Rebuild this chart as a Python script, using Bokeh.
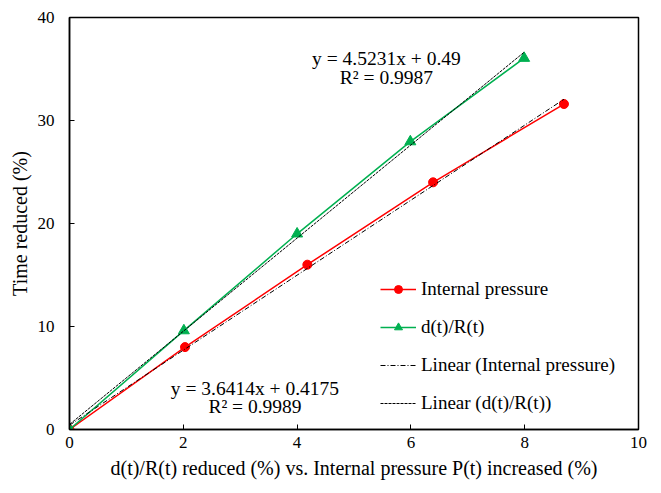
from bokeh.plotting import figure
from bokeh.models import Range1d, FixedTicker, Legend, LegendItem, Label
from bokeh.embed import file_html
from bokeh.resources import INLINE
import numpy as np

# Data
ip_x = [0.0, 2.03, 4.18, 6.39, 8.69]
ip_y = [0.0, 8.0, 16.0, 24.0, 31.6]
dr_x = [0.0, 2.01, 4.0, 5.99, 7.99]
dr_y = [0.0, 9.6, 19.0, 27.95, 36.05]

# Trendline coefficients (as printed on the chart)
ip_slope, ip_intercept = 3.6414, 0.4175
dr_slope, dr_intercept = 4.5231, 0.49
ip_eq = ["y = 3.6414x + 0.4175", "R² = 0.9989"]
dr_eq = ["y = 4.5231x + 0.49", "R² = 0.9987"]

x_ticks = [0, 2, 4, 6, 8, 10]
y_ticks = [0, 10, 20, 30, 40]

FONT = "Liberation Serif"
RED = "#FF0000"
GREEN = "#00B050"

p = figure(width=653, height=485, output_backend="svg", toolbar_location=None,
           x_range=Range1d(0, 10), y_range=Range1d(0, 40),
           min_border_left=69, min_border_right=15, min_border_top=17, min_border_bottom=56)
p.xgrid.visible = False
p.ygrid.visible = False
p.outline_line_color = "black"
p.outline_line_width = 1.5
p.outline_line_alpha = 1.0

for ax in (p.xaxis[0], p.yaxis[0]):
    ax.axis_line_color = "black"
    ax.axis_line_width = 1.5
    ax.major_tick_line_color = "black"
    ax.major_tick_in = 5
    ax.major_tick_out = 0
    ax.minor_tick_line_color = None
    ax.major_label_text_font = FONT
    ax.major_label_text_font_size = "17px"
    ax.major_label_text_color = "black"
    ax.axis_label_text_font = FONT
    ax.axis_label_text_font_size = "20px"
    ax.axis_label_text_font_style = "normal"
    ax.axis_label_text_color = "black"

p.xaxis.ticker = FixedTicker(ticks=x_ticks)
p.yaxis.ticker = FixedTicker(ticks=y_ticks)
p.xaxis.major_label_standoff = 7
p.yaxis.major_label_standoff = 15
p.xaxis.axis_label = "d(t)/R(t) reduced (%) vs. Internal pressure P(t) increased (%)"
p.yaxis.axis_label = "Time reduced (%)"
p.xaxis.axis_label_standoff = 6
p.yaxis.axis_label_standoff = 4

# Series
r_ip_line = p.line(ip_x, ip_y, line_color=RED, line_width=1.5)
r_ip_pts = p.scatter(ip_x, ip_y, marker="circle", size=9, fill_color=RED, line_color=RED)
r_dr_line = p.line(dr_x, dr_y, line_color=GREEN, line_width=1.5)
r_dr_pts = p.scatter(dr_x, dr_y, marker="triangle", size=11, fill_color=GREEN, line_color=GREEN)

# Trendlines over the data range
ip_tx = np.array([min(ip_x), max(ip_x)])
dr_tx = np.array([min(dr_x), max(dr_x)])
r_ip_trend = p.line(ip_tx, ip_slope * ip_tx + ip_intercept, line_color="black",
                    line_width=1, line_dash="5 2 1 2")
r_dr_trend = p.line(dr_tx, dr_slope * dr_tx + dr_intercept, line_color="black",
                    line_width=1, line_dash="3 1")

# Equation labels
for i, t in enumerate(dr_eq):
    p.add_layout(Label(x=5.57, y=36.0 - 1.8 * i, text=t, text_font=FONT,
                       text_font_size="19.5px", text_align="center",
                       text_baseline="middle", text_color="black"))
for i, t in enumerate(ip_eq):
    p.add_layout(Label(x=3.26, y=4.0 - 1.8 * i, text=t, text_font=FONT,
                       text_font_size="19.5px", text_align="center",
                       text_baseline="middle", text_color="black"))

legend = Legend(items=[
    LegendItem(label="Internal pressure", renderers=[r_ip_line, r_ip_pts]),
    LegendItem(label="d(t)/R(t)", renderers=[r_dr_line, r_dr_pts]),
    LegendItem(label="Linear (Internal pressure)", renderers=[r_ip_trend]),
    LegendItem(label="Linear (d(t)/R(t))", renderers=[r_dr_trend]),
], location=(311, 15))
legend.border_line_color = None
legend.background_fill_alpha = 0
legend.padding = 0
legend.margin = 0
legend.spacing = 16
legend.glyph_width = 36
legend.glyph_height = 20
legend.label_height = 20
legend.label_standoff = 5
legend.label_text_font = FONT
legend.label_text_font_size = "19px"
legend.label_text_color = "black"
p.add_layout(legend)

open("out.html", "w").write(file_html(p, INLINE))
